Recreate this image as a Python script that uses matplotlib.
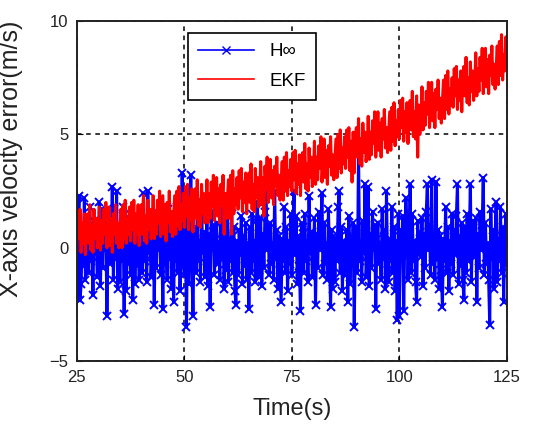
import matplotlib as mpl
import matplotlib.pyplot as plt
import numpy as np

mpl.rcParams["font.family"] = ["Liberation Sans", "DejaVu Sans"]

# time axis, one sample every 0.25 s (25 s .. 125 s)
t_start, t_step = 25.0, 0.25

h_inf = [
    -2.2, 0.8, 2.3, -2.3, -1.6, 0.5, -0.8, 2.2, -1.4, 0.2,
    0.9, -1.1, 1.8, -0.6, 0.3, -2.1, 1.2, -0.2, 0.7, -1.3,
    -0.4, 2.0, -1.7, 1.7, -0.9, 1.6, -0.1, 1.0, -3.0, 0.4,
    1.1, -0.7, 0.2, 2.7, -1.4, 1.7, -0.5, 2.5, -1.8, 0.5,
    -1.5, 0.4, -0.6, 1.8, -2.9, 0.9, -1.9, 0.3, -0.7, 1.5,
    -1.2, 0.8, -2.3, 1.4, -1.6, 0.5, -0.8, 1.1, -1.4, 0.2,
    0.9, -1.1, 2.4, -0.6, 0.3, -1.5, 2.5, -0.2, 0.7, -1.3,
    -0.4, 1.3, -2.5, 0.6, -0.9, 1.6, -0.1, 1.0, -1.2, 0.4,
    -2.7, 1.1, -0.7, 0.2, -1.4, 1.7, -0.5, 0.8, -1.8, 0.5,
    -2.4, 0.4, -0.6, 1.8, -1.1, 0.9, -1.9, 0.3, 3.3, -0.7,
    -1.2, 0.8, -3.5, 1.4, -1.6, 0.5, 3.2, -0.8, -3.0, 0.2,
    0.9, -1.1, 1.5, -0.6, 0.3, -1.5, 2.0, -0.2, 0.7, -1.3,
    -0.4, 1.3, -1.7, 0.6, -2.6, 1.6, -0.1, 1.0, -1.2, 0.4,
    1.1, -0.7, 0.2, -1.4, 1.7, -0.5, 0.8, -1.8, 0.5, -1.0,
    2.2, -1.5, 0.4, -0.6, 1.8, -1.1, 0.9, -1.9, -2.5, 0.3,
    -1.2, 0.8, -0.3, 1.4, -1.6, 0.5, -0.8, 1.1, -1.4, 0.2,
    -2.7, 0.9, -1.1, 1.5, -0.6, 0.3, -1.5, 1.2, 2.0, -1.3,
    -0.4, 1.3, -1.7, 0.6, -0.9, 1.6, 2.5, -0.1, 1.0, -1.2,
    1.1, -0.7, 0.2, -1.4, 2.5, -0.5, 0.8, -1.8, 0.5, -1.0,
    -2.4, 0.4, -0.6, 1.8, -1.1, 0.9, -1.9, 0.3, -0.7, 1.5,
    -1.2, 0.8, 2.5, -0.3, 1.4, -1.6, 0.5, -0.8, -2.8, 1.1,
    0.9, -1.1, 1.5, -0.6, 0.3, -1.5, 2.3, -0.2, 0.7, -1.3,
    -0.4, 1.3, -2.5, 0.6, -0.9, 1.6, -0.1, 1.0, 2.4, -1.2,
    1.1, -0.7, 0.2, -1.4, 1.7, -0.5, -2.6, 0.8, -1.8, 0.5,
    -1.5, 0.4, -0.6, 1.8, 2.5, -1.1, 0.9, -1.9, 0.3, -0.7,
    -1.2, 0.8, -2.4, 1.4, -1.6, 0.5, -0.8, 1.1, -3.5, 0.2,
    0.9, -1.1, 4.2, -0.6, 0.3, -1.5, 1.2, -0.2, 2.8, -1.3,
    -0.4, 2.7, -1.7, 0.6, -0.9, 1.6, -0.1, 1.0, -2.7, 0.4,
    1.1, -0.7, 0.2, -1.4, 1.7, -0.5, 0.8, -1.8, 2.5, -1.0,
    -1.5, 0.4, -0.6, 1.8, -1.1, 0.9, -1.9, 0.3, -3.2, 1.5,
    -3.0, 0.8, -0.3, 1.4, -2.8, 0.5, 2.2, 1.1, -1.4, 0.2,
    2.8, -1.1, 1.5, -0.6, 0.3, -1.5, -2.4, 1.2, -0.2, 0.7,
    -0.4, 1.3, -1.7, 0.6, -0.9, 1.6, 2.8, -0.1, 1.0, -1.2,
    3.0, -0.7, 0.2, -1.4, 2.9, -0.5, 0.8, -1.8, 0.5, -1.0,
    -2.6, 0.4, -0.6, 1.8, -1.1, 0.9, -1.9, 0.3, -0.7, 1.5,
    -1.2, 0.8, -0.3, 1.4, 2.8, -1.6, 0.5, -0.8, 1.1, -1.4,
    -2.3, 0.9, -1.1, 1.5, -0.6, 0.3, 2.8, -1.5, 1.2, -0.2,
    -0.4, 1.3, -2.4, 0.6, -0.9, 1.6, -0.1, 1.0, 3.1, -1.2,
    1.1, -0.7, 0.2, -1.4, -3.4, 1.7, -0.5, 0.8, -1.8, 0.5,
    2.0, -1.5, 0.4, -0.6, 1.8, -1.1, 0.9, -2.4, 0.3, 1.5,
    -0.7,
]

ekf = [
    -0.1, 1.6, 0.4, 1.7, -0.2, 1.1, 0.2, 1.5, -0.3, 1.3,
    1.5, 0.2, 1.9, -0.1, 1.0, -0.2, 1.7, 0.4, 1.3, 0.0,
    0.3, 1.8, -0.1, 1.2, 0.2, 1.7, 0.6, 2.0, 0.0, 1.0,
    1.8, 0.1, 1.3, -0.2, 1.5, 0.6, 1.9, 0.2, 1.1, 0.0,
    0.8, 1.7, 0.0, 1.9, 0.4, 2.1, 0.2, 1.3, 0.6, 1.8,
    0.3, 2.0, 0.8, 2.1, 0.2, 1.5, 0.6, 1.9, 0.1, 1.7,
    1.9, 0.6, 2.3, 0.3, 1.4, 0.2, 2.1, 0.8, 1.7, 0.4,
    0.8, 2.3, 0.4, 1.6, 0.6, 2.1, 1.1, 2.5, 0.5, 1.4,
    2.3, 0.6, 1.9, 0.3, 2.0, 1.1, 2.5, 0.7, 1.6, 0.5,
    1.4, 2.3, 0.6, 2.5, 1.0, 2.7, 0.8, 1.9, 1.2, 2.4,
    0.9, 2.7, 1.4, 2.8, 0.8, 2.2, 1.2, 2.6, 0.7, 2.3,
    2.6, 1.3, 3.0, 1.0, 2.1, 0.9, 2.8, 1.5, 2.4, 1.1,
    1.5, 3.0, 1.1, 2.4, 1.3, 2.9, 1.8, 3.2, 1.2, 2.1,
    3.1, 1.4, 2.6, 1.1, 2.8, 1.9, 3.2, 0.6, 2.4, 1.3,
    2.1, 3.0, 1.3, 3.2, 0.6, 3.4, 1.5, 2.6, 1.9, 3.1,
    1.7, 3.4, 2.2, 3.5, 1.6, 2.9, 2.0, 3.3, 1.5, 3.1,
    3.3, 2.0, 3.7, 1.7, 2.8, 1.6, 3.5, 2.2, 3.1, 1.8,
    2.3, 3.8, 1.9, 3.1, 1.4, 3.6, 2.6, 4.0, 2.0, 2.9,
    3.9, 2.2, 3.4, 1.9, 3.6, 2.7, 4.0, 2.3, 3.2, 2.1,
    2.9, 3.8, 2.1, 4.0, 2.5, 4.2, 2.3, 3.4, 2.7, 3.9,
    2.5, 4.2, 3.0, 4.3, 2.4, 3.7, 2.8, 4.1, 2.3, 3.9,
    4.2, 2.9, 4.6, 2.6, 3.7, 2.5, 4.4, 3.1, 4.0, 2.7,
    3.2, 4.7, 2.8, 4.0, 3.0, 4.5, 3.5, 4.9, 2.9, 3.8,
    4.8, 3.1, 4.3, 2.8, 4.5, 3.6, 4.9, 3.2, 4.1, 3.0,
    3.9, 4.8, 3.1, 5.0, 3.5, 5.2, 3.3, 4.4, 3.7, 4.9,
    3.5, 5.2, 4.0, 5.3, 3.4, 4.7, 2.9, 5.1, 3.3, 4.9,
    5.3, 4.0, 5.7, 3.7, 4.8, 3.6, 5.5, 4.2, 5.1, 3.8,
    4.3, 5.8, 3.9, 5.1, 4.1, 5.6, 4.6, 6.0, 4.0, 4.9,
    6.0, 4.3, 5.5, 4.0, 5.7, 4.8, 6.1, 4.4, 5.3, 4.2,
    5.1, 6.0, 4.3, 6.2, 4.7, 6.4, 4.5, 5.6, 4.9, 6.1,
    4.8, 6.5, 5.3, 6.6, 4.7, 6.0, 5.1, 6.4, 4.6, 6.2,
    6.5, 5.2, 6.9, 4.9, 6.0, 4.8, 6.7, 4.0, 6.3, 5.0,
    5.6, 7.1, 5.2, 6.4, 5.4, 6.9, 5.9, 7.3, 5.3, 6.2,
    7.3, 5.6, 6.8, 5.3, 7.0, 6.1, 7.4, 5.7, 6.6, 5.5,
    6.5, 7.4, 5.7, 7.6, 6.1, 7.8, 5.9, 7.0, 6.3, 7.5,
    6.2, 7.9, 6.7, 8.0, 6.1, 7.4, 6.5, 7.8, 6.0, 7.6,
    8.0, 6.7, 8.4, 6.4, 7.5, 6.3, 8.2, 6.9, 7.8, 6.5,
    7.1, 8.6, 6.7, 7.9, 6.9, 8.4, 7.4, 8.8, 6.8, 7.7,
    8.8, 7.1, 8.3, 6.8, 8.5, 7.6, 8.9, 7.2, 8.1, 7.0,
    8.0, 8.9, 7.2, 9.1, 7.6, 9.4, 7.4, 8.5, 7.8, 9.3,
    8.6,
]

x_ticks = [25, 50, 75, 100, 125]
y_ticks = [-5, 0, 5, 10]

t = t_start + t_step * np.arange(len(ekf))

fig = plt.figure(figsize=(5.41, 4.30), dpi=100)
ax = fig.add_axes([0.142, 0.160, 0.795, 0.791])

ax.plot(t, h_inf, "-x", color="#0000ff", lw=2.2, ms=5.5, mew=1.4, label="H\u221e")
ax.plot(t, ekf, "-", color="#ff0000", lw=2.2, label="EKF")

ax.set_xlim(25, 125)
ax.set_ylim(-5, 10)
ax.set_xticks(x_ticks)
ax.set_yticks(y_ticks)
ax.tick_params(direction="in", labelsize=12, length=4, pad=6, labelcolor="#222222")
ax.grid(True, color="black", linestyle=(0, (3, 3)), lw=1.1)
for s in ax.spines.values():
    s.set_linewidth(1.4)
    s.set_color("#222222")

ax.set_xlabel("Time(s)", fontsize=17, labelpad=10, color="#222222")
ax.set_ylabel("X-axis velocity error(m/s)", fontsize=18, color="#222222")
ax.yaxis.set_label_coords(-0.126, 0.594)

leg = ax.legend(loc="upper left", bbox_to_anchor=(0.258, 0.965), borderaxespad=0,
                fontsize=13.5, handlelength=3.0, fancybox=False, framealpha=1,
                edgecolor="black", borderpad=0.55, labelspacing=0.65)
leg.get_frame().set_linewidth(1.2)
for h in leg.get_lines():
    h.set_linewidth(1.2)
    h.set_markeredgewidth(1.0)

fig.savefig("out.png", dpi=100)
